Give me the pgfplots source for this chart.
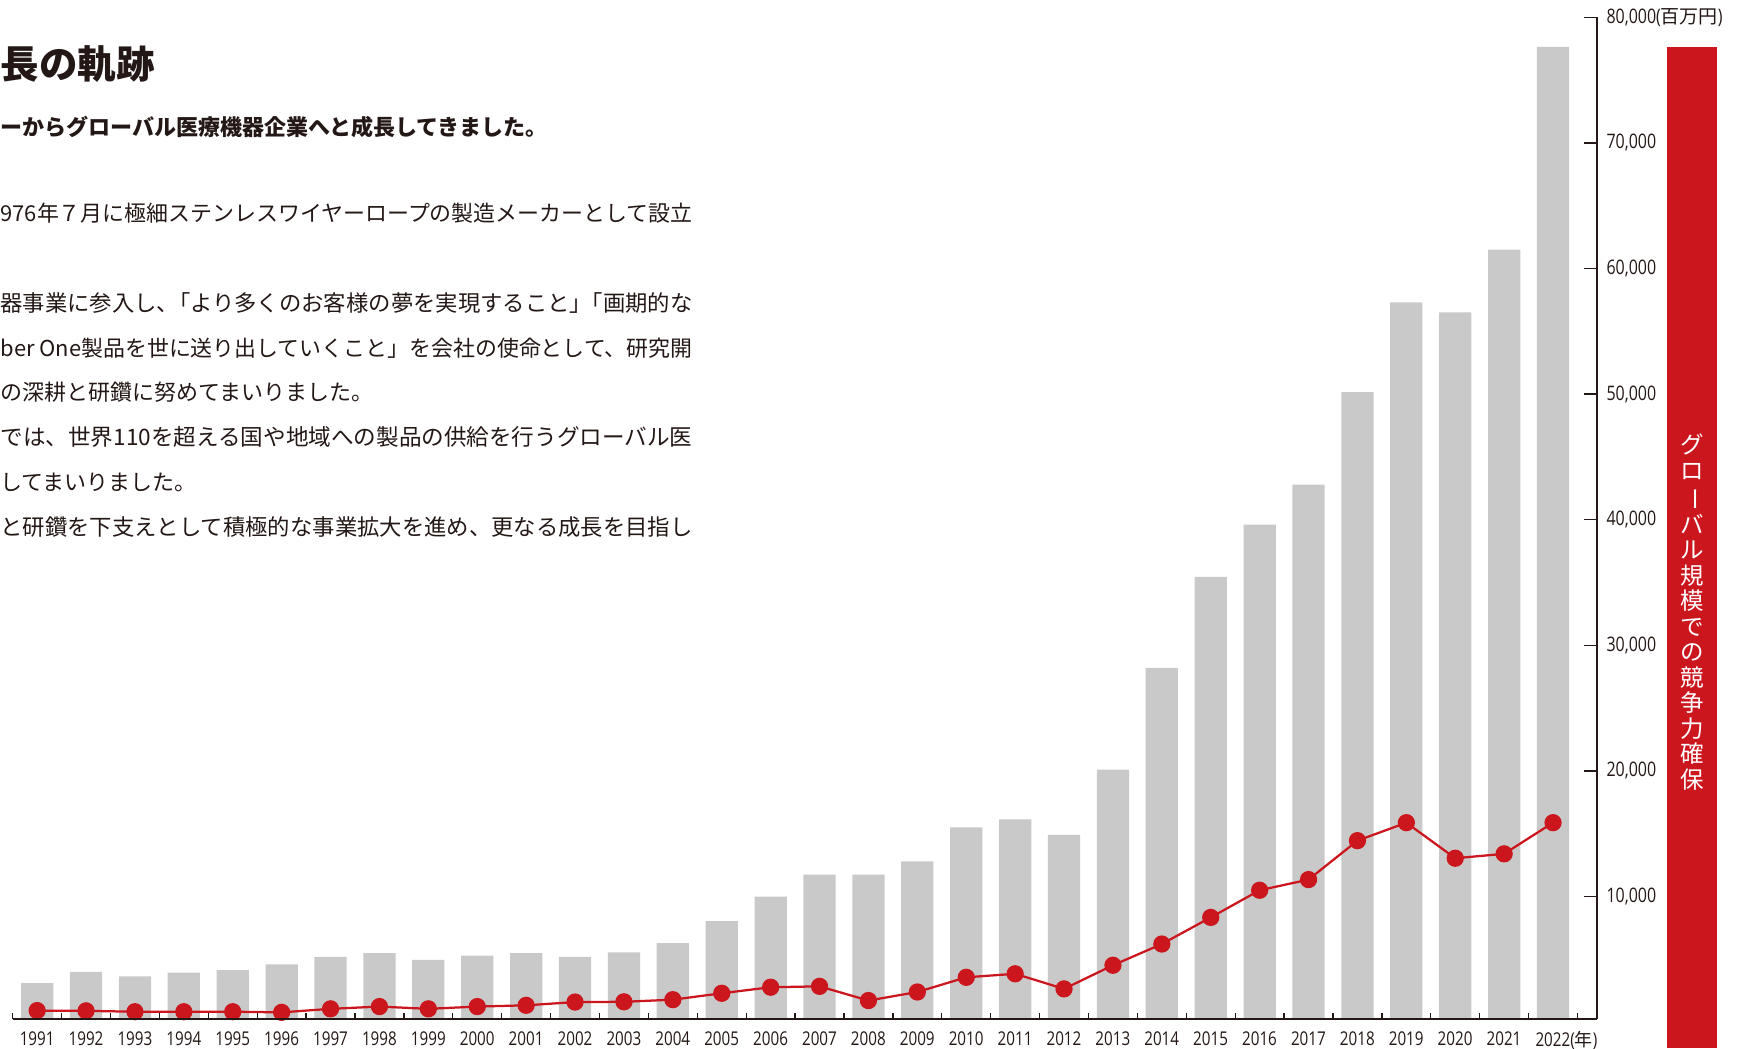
\documentclass[border=0pt]{standalone}
\usepackage{fontspec}
\usepackage{graphicx}
\usepackage{pgfplots}
\pgfplotsset{compat=1.18}
\setmainfont{Noto Sans CJK JP}
\newfontfamily\jp{Noto Sans CJK JP}
\newfontfamily\jph[RawFeature=+halt]{Noto Sans CJK JP}
\newfontfamily\num[FakeStretch=0.8]{Open Sans}
\definecolor{txt}{HTML}{231815}
\definecolor{barg}{HTML}{C9C9C9}
\definecolor{nred}{HTML}{CC161E}
\newcommand\vbar{\rotatebox[origin=c]{-90}{ー}}
\newcommand\fitline[1]{\resizebox{276.8pt}{!}{#1}}

\begin{document}
\begin{tikzpicture}[x=0.4pt,y=0.4pt]
\useasboundingbox (0,0) rectangle (1743,1048);

% text block on the left
\node[anchor=west, inner sep=0, text=txt, font=\bfseries\fontsize{15.4}{18}\selectfont] at (0,984) {長の軌跡};
\begin{scope}[every node/.style={anchor=west, inner sep=0, text=txt, font=\fontsize{8.8}{10}\selectfont}]
\node[font=\bfseries\fontsize{8.8}{10}\selectfont] at (0,921) {ーからグローバル医療機器企業へと成長してきました。};
\node at (0,835) {\fitline{976年７月に極細ステンレスワイヤーロープの製造メーカーとして設立}};
\node at (0,745) {\fitline{器事業に参入し{\jph 、}「より多くのお客様の夢を実現すること{\jph 」}「画期的な}};
\node at (0,700) {\fitline{ber One製品を世に送り出していくこと」を会社の使命として、研究開}};
\node at (0,656) {の深耕と研鑽に努めてまいりました。};
\node at (0,611) {\fitline{では、世界110を超える国や地域への製品の供給を行うグローバル医}};
\node at (0,566) {してまいりました。};
\node at (0,521) {\fitline{と研鑽を下支えとして積極的な事業拡大を進め、更なる成長を目指し}};
\end{scope}

% red band on the right
\fill[nred] (1666.7,0) rectangle (1716.7,1001);
\node[text=white, align=center, inner sep=0, font=\jp\fontsize{9.4}{10.2}\selectfont] at (1692,436)
  {グ\\ロ\\\vbar\\バ\\ル\\規\\模\\で\\の\\競\\争\\力\\確\\保};

\begin{axis}[
   at={(5.08pt,11.6pt)}, anchor=south west,
   scale only axis, width=633.72pt, height=400.68pt,
   xmin=1990.5, xmax=2022.9,
   ymin=250, ymax=80000,
   axis x line=bottom, axis y line=right,
   axis line style={-, line width=0.65pt, txt},
   axis on top, clip mode=individual,
   tick align=inside,
   major tick length=5.1pt,
   scaled y ticks=false,
   xtick={1991,...,2022},
   xtick style={draw=none},
   xticklabels={1991,1992,1993,1994,1995,1996,1997,1998,1999,2000,2001,2002,2003,2004,2005,2006,
     2007,2008,2009,2010,2011,2012,2013,2014,2015,2016,2017,2018,2019,2020,2021,
     {2022\rlap{({\jp\fontsize{7.2}{8}\selectfont 年})}}},
   xticklabel style={anchor=north, inner sep=0pt, yshift=-4.7pt, text=txt,
     font=\num\fontsize{7.6}{9}\selectfont},
   ytick={10000,20000,...,80000},
   yticklabels={{10,000},{20,000},{30,000},{40,000},{50,000},{60,000},{70,000},
     {80,000({\jp\fontsize{7.6}{9}\selectfont 百万円})}},
   ytick style={line width=0.55pt, txt},
   yticklabel style={anchor=west, inner sep=0pt, xshift=3.6pt, text=txt,
     font=\num\fontsize{8}{9}\selectfont},
]
\addplot[ybar, bar width=0.66, fill=barg, draw=none] coordinates {
  (1991,3100) (1992,4000) (1993,3650) (1994,3950) (1995,4150) (1996,4600)
  (1997,5200) (1998,5500) (1999,4950) (2000,5300) (2001,5500) (2002,5200)
  (2003,5550) (2004,6300) (2005,8050) (2006,10000) (2007,11750) (2008,11750)
  (2009,12800) (2010,15500) (2011,16150) (2012,14900) (2013,20100) (2014,28200)
  (2015,35450) (2016,39600) (2017,42800) (2018,50150) (2019,57300) (2020,56500)
  (2021,61500) (2022,77650)
};
\addplot[nred, line width=0.9pt, mark=*, mark size=3pt, mark options={fill=nred, draw=nred}] coordinates {
  (1991,920) (1992,900) (1993,830) (1994,830) (1995,830) (1996,780)
  (1997,1060) (1998,1240) (1999,1060) (2000,1240) (2001,1340) (2002,1600)
  (2003,1620) (2004,1790) (2005,2300) (2006,2780) (2007,2850) (2008,1720)
  (2009,2400) (2010,3570) (2011,3850) (2012,2650) (2013,4530) (2014,6220)
  (2015,8340) (2016,10500) (2017,11350) (2018,14450) (2019,15880) (2020,13050)
  (2021,13400) (2022,15880)
};
\pgfplotsinvokeforeach{0,...,32}{
  \draw[txt, line width=0.5pt] (axis cs:1990.5+#1,250) -- ++(0pt,2.6pt);
}
\end{axis}
\end{tikzpicture}
\end{document}
